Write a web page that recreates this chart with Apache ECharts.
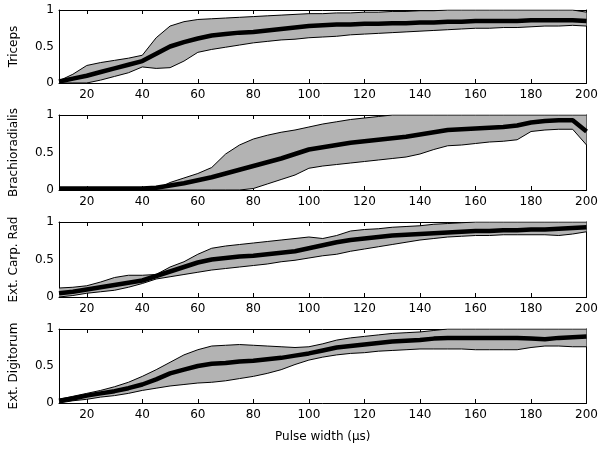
<!DOCTYPE html>
<html>
<head>
<meta charset="utf-8">
<script src="https://cdn.jsdelivr.net/npm/echarts@6/dist/echarts.min.js"></script>
<style>
  html, body { margin: 0; padding: 0; background: #fff; }
  #chart { width: 601px; height: 449px; }
</style>
</head>
<body>
<div id="chart"></div>
<script>
// pulse widths (us)
const pulseWidths = [10, 15, 20, 25, 30, 35, 40, 45, 50, 55, 60, 65, 70, 75, 80, 85, 90, 95, 100,
  105, 110, 115, 120, 125, 130, 135, 140, 145, 150, 155, 160, 165, 170, 175, 180, 185, 190, 195, 200]
const muscleNames = ['Triceps', 'Brachioradialis', 'Ext. Carp. Rad', 'Ext. Digitorum']

const tricepsMean = [0.02, 0.06, 0.1, 0.15, 0.2, 0.25, 0.3, 0.4, 0.5, 0.56, 0.61, 0.65, 0.67, 0.69, 0.7, 0.72, 0.74, 0.76, 0.78,
  0.79, 0.8, 0.8, 0.81, 0.81, 0.82, 0.82, 0.83, 0.83, 0.84, 0.84, 0.85, 0.85, 0.85, 0.85, 0.86, 0.86, 0.86, 0.86, 0.85]
const tricepsUpper = [0.03, 0.12, 0.24, 0.28, 0.31, 0.34, 0.38, 0.62, 0.78, 0.84, 0.87, 0.88, 0.89, 0.9, 0.91, 0.92, 0.93, 0.94, 0.95,
  0.95, 0.96, 0.96, 0.97, 0.97, 0.98, 0.98, 0.99, 0.99, 1, 1, 1, 1, 1, 1, 1, 1, 1, 1, 0.97]
const tricepsLower = [0, 0, 0, 0.04, 0.09, 0.14, 0.22, 0.2, 0.21, 0.3, 0.42, 0.46, 0.49, 0.52, 0.55, 0.57, 0.59, 0.6, 0.62,
  0.63, 0.64, 0.66, 0.67, 0.68, 0.69, 0.7, 0.71, 0.72, 0.73, 0.74, 0.75, 0.75, 0.76, 0.76, 0.77, 0.78, 0.78, 0.79, 0.78]

const brachioMean = [0.02, 0.02, 0.02, 0.02, 0.02, 0.02, 0.02, 0.03, 0.06, 0.09, 0.13, 0.17, 0.22, 0.27, 0.32, 0.37, 0.42, 0.48, 0.54,
  0.57, 0.6, 0.63, 0.65, 0.67, 0.69, 0.71, 0.74, 0.77, 0.8, 0.81, 0.82, 0.83, 0.84, 0.86, 0.9, 0.92, 0.93, 0.93, 0.78]
const brachioUpper = [0, 0, 0, 0, 0, 0, 0, 0.01, 0.1, 0.16, 0.22, 0.3, 0.48, 0.6, 0.68, 0.73, 0.77, 0.8, 0.84,
  0.88, 0.91, 0.94, 0.96, 0.98, 1, 1, 1, 1, 1, 1, 1, 1, 1, 1, 1, 1, 1, 1, 1]
const brachioLower = [0, 0, 0, 0, 0, 0, 0, 0, 0, 0, 0, 0, 0, 0, 0.02, 0.08, 0.14, 0.2, 0.29,
  0.32, 0.34, 0.36, 0.38, 0.4, 0.42, 0.44, 0.48, 0.54, 0.59, 0.6, 0.62, 0.64, 0.65, 0.67, 0.78, 0.8, 0.81, 0.81, 0.6]

const carpMean = [0.05, 0.07, 0.1, 0.13, 0.16, 0.19, 0.22, 0.28, 0.34, 0.4, 0.46, 0.5, 0.52, 0.54, 0.55, 0.57, 0.59, 0.61, 0.65,
  0.69, 0.73, 0.76, 0.78, 0.8, 0.82, 0.83, 0.84, 0.85, 0.86, 0.87, 0.88, 0.88, 0.89, 0.89, 0.9, 0.9, 0.91, 0.92, 0.93]
const carpUpper = [0.12, 0.13, 0.15, 0.2, 0.26, 0.29, 0.29, 0.3, 0.4, 0.47, 0.57, 0.65, 0.68, 0.7, 0.72, 0.74, 0.76, 0.78, 0.8,
  0.78, 0.82, 0.88, 0.9, 0.91, 0.93, 0.94, 0.95, 0.97, 0.98, 0.99, 1, 1, 1, 1, 1, 1, 1, 1, 1]
const carpLower = [0, 0.02, 0.05, 0.07, 0.09, 0.13, 0.18, 0.24, 0.27, 0.3, 0.33, 0.36, 0.38, 0.4, 0.42, 0.44, 0.47, 0.49, 0.52,
  0.55, 0.57, 0.61, 0.64, 0.67, 0.7, 0.73, 0.76, 0.78, 0.8, 0.81, 0.82, 0.82, 0.83, 0.83, 0.83, 0.83, 0.82, 0.84, 0.87]

const digitMean = [0.03, 0.06, 0.1, 0.13, 0.16, 0.2, 0.25, 0.32, 0.4, 0.45, 0.5, 0.53, 0.54, 0.56, 0.57, 0.59, 0.61, 0.64, 0.67,
  0.71, 0.75, 0.77, 0.79, 0.81, 0.83, 0.84, 0.85, 0.87, 0.88, 0.88, 0.88, 0.88, 0.88, 0.88, 0.87, 0.86, 0.88, 0.89, 0.9]
const digitUpper = [0.05, 0.09, 0.13, 0.17, 0.22, 0.28, 0.36, 0.45, 0.55, 0.65, 0.72, 0.77, 0.78, 0.79, 0.78, 0.77, 0.76, 0.75, 0.76,
  0.8, 0.85, 0.88, 0.9, 0.92, 0.94, 0.95, 0.96, 0.98, 1, 1, 1, 1, 1, 1, 1, 1, 1, 1, 1]
const digitLower = [0, 0.03, 0.05, 0.08, 0.1, 0.13, 0.17, 0.2, 0.23, 0.25, 0.27, 0.28, 0.3, 0.33, 0.36, 0.4, 0.45, 0.52, 0.58,
  0.62, 0.65, 0.67, 0.68, 0.7, 0.71, 0.72, 0.73, 0.73, 0.73, 0.73, 0.72, 0.72, 0.72, 0.72, 0.75, 0.77, 0.77, 0.76, 0.76]

const panels = [
  { mean: tricepsMean, upper: tricepsUpper, lower: tricepsLower },
  { mean: brachioMean, upper: brachioUpper, lower: brachioLower },
  { mean: carpMean, upper: carpUpper, lower: carpLower },
  { mean: digitMean, upper: digitUpper, lower: digitLower },
]

const gridBoxes = [
  { top: 10, height: 73 },
  { top: 115, height: 75 },
  { top: 222, height: 75 },
  { top: 329, height: 74 },
]

const font = 'DejaVu Sans'
const every20 = (idx, val) => Number(val) % 20 === 0
const frameLine = { show: true, onZero: false, lineStyle: { color: '#000', width: 1 } }

const grid = []
const xAxis = []
const yAxis = []
const series = []

gridBoxes.forEach((box, i) => {
  grid.push({ left: 53, right: 14, top: box.top, height: box.height })
  // bottom axis with labels
  xAxis.push({
    type: 'category', gridIndex: i, data: pulseWidths, boundaryGap: false,
    axisLine: frameLine,
    splitLine: { show: false },
    axisTick: { show: true, inside: true, length: 4, interval: every20, lineStyle: { color: '#000' } },
    axisLabel: { interval: every20, color: '#000', fontFamily: font, fontSize: 12, margin: 6 },
    name: i === 3 ? 'Pulse width (\u00b5s)' : '',
    nameLocation: 'middle', nameGap: 28,
    nameTextStyle: { color: '#000', fontFamily: font, fontSize: 12 }
  })
  // top axis, ticks only
  xAxis.push({
    type: 'category', gridIndex: i, data: pulseWidths, boundaryGap: false, position: 'top',
    axisLine: frameLine,
    splitLine: { show: false },
    axisTick: { show: true, inside: true, length: 4, interval: every20, lineStyle: { color: '#000' } },
    axisLabel: { show: false }
  })
  yAxis.push({
    type: 'value', gridIndex: i, min: 0, max: 1, interval: 0.5,
    axisLine: frameLine,
    splitLine: { show: false },
    axisTick: { show: false },
    axisLabel: { color: '#000', fontFamily: font, fontSize: 12, margin: 5 },
    name: muscleNames[i], nameLocation: 'middle', nameRotate: 90, nameGap: 39,
    nameTextStyle: { color: '#000', fontFamily: font, fontSize: 12 }
  })
  // right frame edge
  yAxis.push({
    type: 'value', gridIndex: i, min: 0, max: 1, position: 'right',
    axisLine: frameLine, splitLine: { show: false },
    axisTick: { show: false }, axisLabel: { show: false }
  })

  const p = panels[i]
  const base = { type: 'line', xAxisIndex: i * 2, yAxisIndex: i * 2, symbol: 'none', silent: true }
  series.push({ ...base, stack: 'band' + i, data: p.lower, lineStyle: { opacity: 0 } })
  series.push({
    ...base, stack: 'band' + i, data: p.upper.map((u, k) => +(u - p.lower[k]).toFixed(3)),
    lineStyle: { opacity: 0 }, areaStyle: { color: '#b3b3b3', opacity: 1 }
  })
  series.push({ ...base, data: p.lower, lineStyle: { color: '#000', width: 1 } })
  series.push({ ...base, data: p.upper, lineStyle: { color: '#000', width: 1 } })
  series.push({ ...base, data: p.mean, lineStyle: { color: '#000', width: 4.5 } })
})

const chart = echarts.init(document.getElementById('chart'))
chart.setOption({
  animation: false,
  backgroundColor: '#fff',
  grid, xAxis, yAxis, series
})
</script>
</body>
</html>
